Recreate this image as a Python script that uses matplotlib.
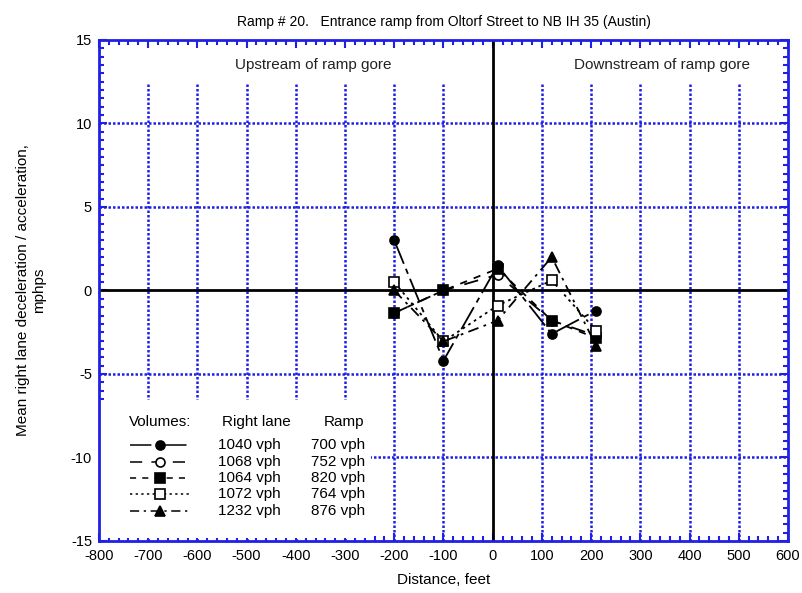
import numpy as np
import matplotlib.pyplot as plt
from matplotlib.patches import Rectangle
from matplotlib.ticker import MultipleLocator

plt.rcParams['font.family'] = ['Liberation Sans', 'DejaVu Sans']
plt.rcParams['axes.unicode_minus'] = False

# Distance from the ramp gore, feet
distance = [-200, -100, 10, 120, 210]

# Mean right lane deceleration / acceleration (mphps) per volume condition
accel_1040 = [3.0, -4.2, 1.5, -2.6, -1.2]
accel_1068 = [-1.35, 0.0, 0.95, -1.8, -2.7]
accel_1064 = [-1.35, 0.0, 1.3, -1.8, -2.85]
accel_1072 = [0.5, -3.05, -0.9, 0.6, -2.4]
accel_1232 = [0.0, -3.05, -1.8, 2.0, -3.3]

right_lane = ['1040 vph', '1068 vph', '1064 vph', '1072 vph', '1232 vph']
ramp = ['700 vph', '752 vph', '820 vph', '764 vph', '876 vph']

series = [accel_1040, accel_1068, accel_1064, accel_1072, accel_1232]
styles = [
    dict(marker='o', mfc='black', dashes=(14, 3, 3, 3)),
    dict(marker='o', mfc='white', dashes=(8, 6)),
    dict(marker='s', mfc='black', dashes=(4, 4)),
    dict(marker='s', mfc='white', dashes=(1.5, 2.2)),
    dict(marker='^', mfc='black', dashes=(6, 3, 1.5, 3)),
]

blue = '#1f1fe6'

fig = plt.figure(figsize=(8.02, 5.93), dpi=100)
ax = fig.add_axes([0.1234, 0.0877, 0.8591, 0.8449])
ax.set_xlim(-800, 600)
ax.set_ylim(-15, 15)

# grid: horizontal lines full width, vertical lines stop under the labels
grid_kw = dict(color=blue, lw=1.8, linestyle=(0, (1, 0.8)), zorder=1)
for yv in [-10, -5, 5, 10]:
    ax.axhline(yv, **grid_kw)
for xv in [-700, -600, -500, -400, -300, -200, -100, 100, 200, 300, 400, 500]:
    ax.vlines(xv, -15, 12.5, **grid_kw)
ax.axhline(0, color='black', lw=2, zorder=2)
ax.axvline(0, color='black', lw=2, zorder=2)

for vals, st in zip(series, styles):
    ax.plot(distance, vals, color='black', lw=1.3, marker=st['marker'],
            ms=6.5, mfc=st['mfc'], mec='black', mew=1.2,
            dashes=st['dashes'], zorder=4)

ax.text(-364, 13.5, 'Upstream of ramp gore', ha='center', va='center',
        fontsize=11, color='#222222')
ax.text(345, 13.5, 'Downstream of ramp gore', ha='center', va='center',
        fontsize=11, color='#222222')

# key with the volume conditions
ax.add_patch(Rectangle((-797, -14.8), 549, 8.25, facecolor='white',
                       edgecolor='none', zorder=3))
ax.text(-740, -7.87, 'Volumes:', va='center', fontsize=11, zorder=5)
ax.text(-549, -7.87, 'Right lane', va='center', fontsize=11, zorder=5)
ax.text(-344, -7.87, 'Ramp', va='center', fontsize=11, zorder=5)
row_y = [-9.25, -10.25, -11.23, -12.19, -13.19]
for ry, st, rl, rp in zip(row_y, styles, right_lane, ramp):
    ax.plot([-736, -614], [ry, ry], color='black', lw=1.1,
            dashes=st['dashes'], zorder=5)
    ax.plot([-675], [ry], color='black', marker=st['marker'], ms=6.5,
            mfc=st['mfc'], mec='black', mew=1.2, zorder=6)
    ax.text(-559, ry, rl, va='center', fontsize=11, zorder=5)
    ax.text(-370, ry, rp, va='center', fontsize=11, zorder=5)

for sp in ax.spines.values():
    sp.set_color(blue)
    sp.set_linewidth(2)
    sp.set_zorder(6)
ax.xaxis.set_major_locator(MultipleLocator(100))
ax.xaxis.set_minor_locator(MultipleLocator(20))
ax.yaxis.set_major_locator(MultipleLocator(5))
ax.yaxis.set_minor_locator(MultipleLocator(0.5))
ax.tick_params(which='both', direction='in', top=True, right=True,
               color=blue, width=1.5, labelsize=10.5)
ax.tick_params(which='major', length=6)
ax.tick_params(which='minor', length=3.5)
ax.tick_params(axis='x', pad=6)
ax.tick_params(axis='y', pad=5)

ax.set_title('Ramp # 20.   Entrance ramp from Oltorf Street to NB IH 35 (Austin)',
             fontsize=10, pad=10)
ax.set_xlabel('Distance, feet', fontsize=11, labelpad=7)
ax.set_ylabel('Mean right lane deceleration / acceleration,\nmphps',
              fontsize=11, labelpad=18)

fig.savefig('out.png', dpi=100)
